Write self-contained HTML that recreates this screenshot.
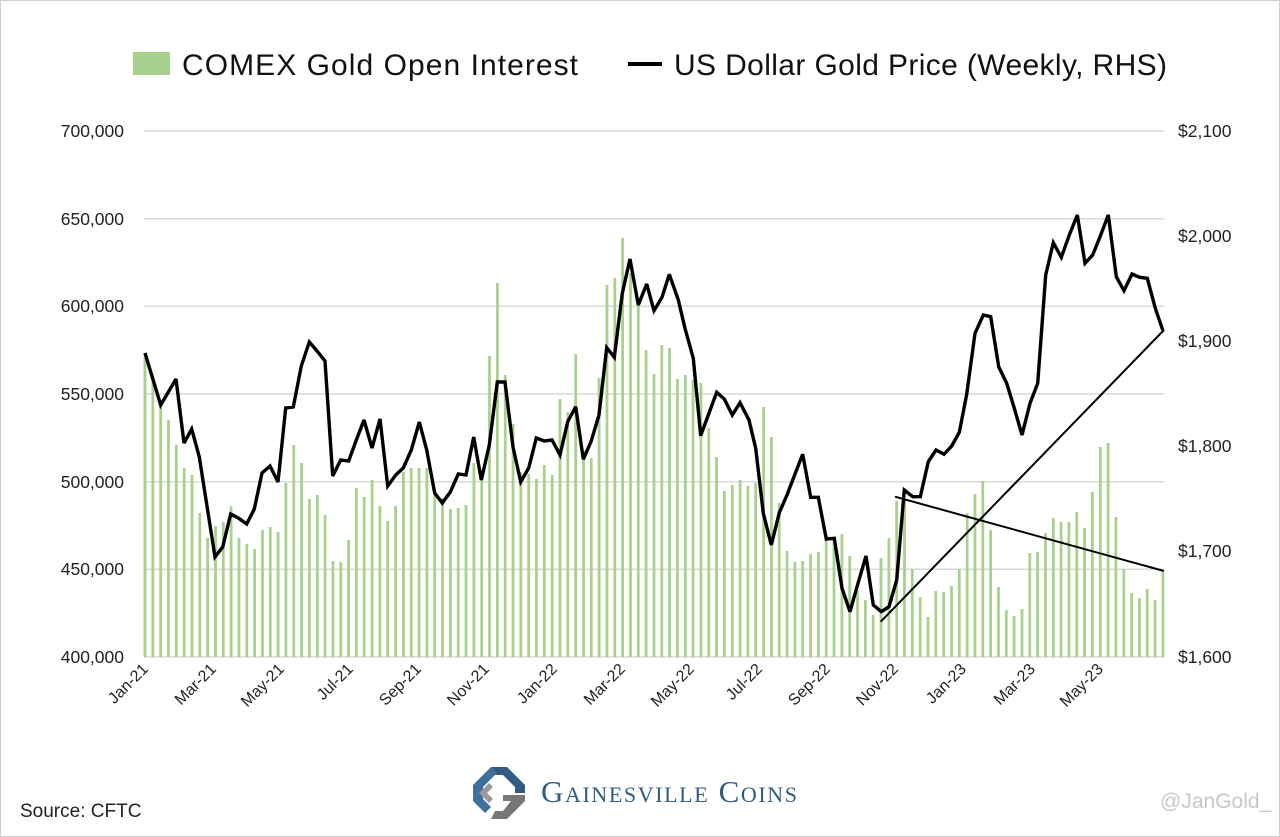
<!DOCTYPE html>
<html><head><meta charset="utf-8"><style>
html,body{margin:0;padding:0;background:#fff}
svg{display:block}
text{font-family:"Liberation Sans",sans-serif}
</style></head><body>
<svg width="1280" height="837" viewBox="0 0 1280 837" xmlns="http://www.w3.org/2000/svg">
<rect x="0.5" y="0.5" width="1279" height="836" fill="#fff" stroke="#d0d0d0"/>
<!-- legend -->
<rect x="133" y="52" width="37" height="23" fill="#a9d18e"/>
<text x="182" y="75" font-size="30" fill="#111" textLength="396">COMEX Gold Open Interest</text>
<line x1="628" y1="64" x2="662" y2="64" stroke="#000" stroke-width="4"/>
<text x="674" y="75" font-size="30" fill="#111" textLength="493">US Dollar Gold Price (Weekly, RHS)</text>
<!-- grid -->
<g stroke="#d9d9d9" stroke-width="1.5">
<line x1="144" y1="131" x2="1164" y2="131"/>
<line x1="144" y1="218.7" x2="1164" y2="218.7"/>
<line x1="144" y1="306.3" x2="1164" y2="306.3"/>
<line x1="144" y1="394" x2="1164" y2="394"/>
<line x1="144" y1="481.7" x2="1164" y2="481.7"/>
<line x1="144" y1="569.3" x2="1164" y2="569.3"/>
<line x1="144" y1="657" x2="1164" y2="657"/>
</g>
<g font-size="17.5" fill="#222" text-anchor="end">
<text x="124" y="137">700,000</text>
<text x="124" y="225">650,000</text>
<text x="124" y="312">600,000</text>
<text x="124" y="400">550,000</text>
<text x="124" y="488">500,000</text>
<text x="124" y="575">450,000</text>
<text x="124" y="663">400,000</text>
</g>
<g font-size="17.5" fill="#222">
<text x="1178" y="137">$2,100</text>
<text x="1178" y="242">$2,000</text>
<text x="1178" y="347">$1,900</text>
<text x="1178" y="452">$1,800</text>
<text x="1178" y="557">$1,700</text>
<text x="1178" y="663">$1,600</text>
</g>
<!-- bars -->
<path fill="none" stroke="#a9d18e" stroke-width="2.8" d="M145 657V353M152.8 657V380M160.7 657V407M168.5 657V420M176.3 657V445M184.2 657V468M192 657V475M199.8 657V513M207.6 657V538M215.5 657V526M223.3 657V522M231.1 657V506M239 657V538M246.8 657V544M254.6 657V549M262.5 657V530M270.3 657V527M278.1 657V532M285.9 657V483M293.8 657V445M301.6 657V463M309.4 657V499M317.3 657V495M325.1 657V515M332.9 657V561M340.8 657V562M348.6 657V540M356.4 657V488M364.2 657V497M372.1 657V480M379.9 657V506M387.7 657V521M395.6 657V506M403.4 657V472M411.2 657V468M419.1 657V468M426.9 657V468M434.7 657V493M442.5 657V498M450.4 657V509M458.2 657V508M466 657V505M473.9 657V463M481.7 657V475M489.5 657V356M497.4 657V283M505.2 657V375M513 657V424M520.8 657V472M528.7 657V474M536.5 657V479M544.3 657V465M552.2 657V475M560 657V399M567.8 657V412M575.7 657V354M583.5 657V450M591.3 657V458M599.1 657V378M607 657V285M614.8 657V278M622.6 657V238M630.5 657V273M638.3 657V305M646.1 657V350M654 657V374M661.8 657V345M669.6 657V348M677.4 657V379M685.3 657V375M693.1 657V380M700.9 657V383M708.8 657V428M716.6 657V457M724.4 657V491M732.3 657V485M740.1 657V480M747.9 657V486M755.7 657V483M763.6 657V407M771.4 657V437M779.2 657V503M787.1 657V551M794.9 657V562M802.7 657V561M810.6 657V554M818.4 657V552M826.2 657V538M834 657V538M841.9 657V534M849.7 657V556M857.5 657V591M865.4 657V600M873.2 657V615M881 657V558M888.9 657V538M896.7 657V501M904.5 657V500M912.3 657V569M920.2 657V597M928 657V617M935.8 657V591M943.7 657V592M951.5 657V586M959.3 657V569M967.2 657V513M975 657V494M982.8 657V481M990.6 657V530M998.5 657V587M1006.3 657V610M1014.1 657V616M1022 657V609M1029.8 657V553M1037.6 657V552M1045.5 657V533M1053.3 657V518M1061.1 657V522M1068.9 657V522M1076.8 657V512M1084.6 657V528M1092.4 657V492M1100.3 657V447M1108.1 657V443M1115.9 657V517M1123.8 657V569M1131.6 657V593M1139.4 657V598M1147.2 657V589M1155.1 657V600M1162.9 657V572"/>
<!-- price line -->
<polyline fill="none" stroke="#000" stroke-width="3.4" stroke-linejoin="miter" stroke-miterlimit="3" points="145,353 160.7,405 176,379 184,443 191.7,429 199.3,457 215,557 222.7,547 230.7,514 238.3,518 246.7,524 254.3,509 262,473 270,466 278,482 285.7,408 293.3,407 301.3,366 309.3,342 317,351 325,361 332.7,476 340.7,460 348.7,461 356.3,440 364,420 372,448 380,419 387.7,486 395.7,475 403.3,468 411.3,450 419.3,422 426.7,450 434.7,493 442.3,503 450.3,492 458.3,474 466,475 473.7,437 481.3,480 489.3,445 497.3,382 505,382 513,447 520.7,482 528.7,468 536.3,438 544.3,441 552,440 560,455 567.7,421.7 575.7,406.7 583.3,459.3 591,441.7 599,415 606.7,347.7 614.3,357.3 622.3,293.3 630,259 638.3,305 646.7,284 654,310.7 662,297.3 669.3,274.3 678.3,300 685,328.3 693.3,358.3 700.7,435.7 708.3,415 716.7,392.3 724.3,399 732.3,415 740,402.7 749,420 755.7,448.3 763.3,513.3 771.3,545 779.3,512.7 787,495 795,474 802.7,454.3 810.7,497.3 818.3,497.3 826.3,539 834.3,538.3 842,588.3 850,611.7 857.7,584.3 866,556 873.3,605 881.3,611.7 889,606.7 896.7,580 904.3,490 912.7,496.7 920.3,496.7 928.3,461.7 936,450 944,454.3 951.7,446 959.3,432.3 966.7,394.3 975,333.3 983.3,315 990.7,316.7 998.7,366.7 1006.7,383.3 1014.3,408.3 1022,435 1030,403.3 1037.7,383.3 1045.7,275 1053.3,242.7 1061.3,257.3 1069.3,235 1077.3,215 1085,263.3 1092.7,255 1100.7,235 1108.3,215 1116.3,276.7 1124,290.7 1132,274 1139.7,277.3 1147.3,278.3 1155.3,308.3 1162.7,330"/>
<!-- trend lines -->
<line x1="880.7" y1="621.7" x2="1164" y2="330" stroke="#000" stroke-width="2"/>
<line x1="895" y1="496.7" x2="1164" y2="571" stroke="#000" stroke-width="2"/>
<!-- x labels -->
<g font-size="16" fill="#222" text-anchor="end">
<text transform="translate(149,670) rotate(-45)">Jan-21</text>
<text transform="translate(217,670) rotate(-45)">Mar-21</text>
<text transform="translate(285,670) rotate(-45)">May-21</text>
<text transform="translate(354,670) rotate(-45)">Jul-21</text>
<text transform="translate(422,670) rotate(-45)">Sep-21</text>
<text transform="translate(490,670) rotate(-45)">Nov-21</text>
<text transform="translate(558,670) rotate(-45)">Jan-22</text>
<text transform="translate(626,670) rotate(-45)">Mar-22</text>
<text transform="translate(695,670) rotate(-45)">May-22</text>
<text transform="translate(763,670) rotate(-45)">Jul-22</text>
<text transform="translate(831,670) rotate(-45)">Sep-22</text>
<text transform="translate(899,670) rotate(-45)">Nov-22</text>
<text transform="translate(967,670) rotate(-45)">Jan-23</text>
<text transform="translate(1036,670) rotate(-45)">Mar-23</text>
<text transform="translate(1104,670) rotate(-45)">May-23</text>
</g>
<!-- logo -->
<g transform="translate(499,793)">
<polygon points="-8,-26 8,-26 26,-8 26,0 16,0 16,-6 4,-18 -4,-18" fill="#2f5b85"/>
<polygon points="-26,-8 -8,-26 -2,-20 -16,-6 -16,6 -8,14 -14,20 -26,8" fill="#3f6f9c"/>
<polygon points="-8,26 8,26 26,8 26,2 4,2 4,8 12,8 4,18 -4,18" fill="#777"/>
<polygon points="-20,0 -10,-10 -6,-6 -12,0 -6,6 -10,10" fill="#999"/>
</g>
<text x="541" y="802" font-size="31" font-variant="small-caps" fill="#2f5b85" textLength="256" style="font-family:'Liberation Serif',serif">Gainesville Coins</text>
<text x="20" y="817" font-size="19" fill="#222">Source: CFTC</text>
<text x="1160" y="808" font-size="21" fill="#c8c8c8">@JanGold_</text>
</svg>
</body></html>
